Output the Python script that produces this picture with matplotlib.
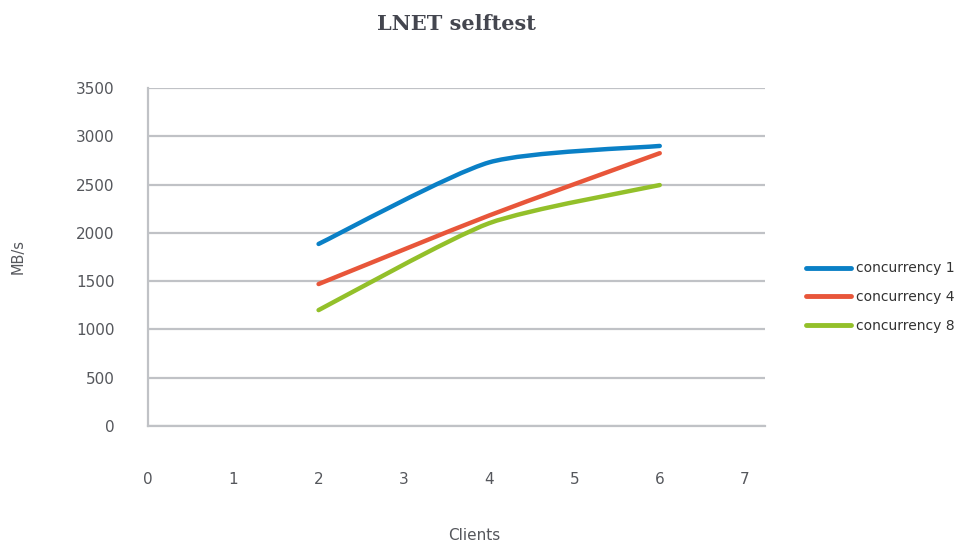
import numpy as np
import matplotlib
matplotlib.use("Agg")
import matplotlib.pyplot as plt
from matplotlib.path import Path
from matplotlib.patches import PathPatch
from matplotlib.lines import Line2D

# Data
clients = [2, 4, 6]
conc1 = [1885, 2730, 2900]
conc4 = [1470, 2180, 2825]
conc8 = [1200, 2100, 2495]
series_names = ["concurrency 1", "concurrency 4", "concurrency 8"]
series_colors = ["#0a80c6", "#e8563a", "#93c02a"]
x_ticks = [0, 1, 2, 3, 4, 5, 6, 7]
y_ticks = [0, 500, 1000, 1500, 2000, 2500, 3000, 3500]

TEXT = "#55575c"
GRID = "#c0c2c6"


def smooth_path(xs, ys, k=1 / 9.0):
    """Cardinal-spline cubic Bezier path through the given points."""
    pts = np.column_stack([xs, ys]).astype(float)
    verts = [pts[0]]
    codes = [Path.MOVETO]
    n = len(pts)
    for i in range(n - 1):
        p0 = pts[i - 1] if i > 0 else pts[i]
        p1 = pts[i]
        p2 = pts[i + 1]
        p3 = pts[i + 2] if i + 2 < n else pts[i + 1]
        c1 = p1 + (p2 - p0) * k
        c2 = p2 - (p3 - p1) * k
        verts += [c1, c2, p2]
        codes += [Path.CURVE4] * 3
    return Path(verts, codes)


fig = plt.figure(figsize=(9.65, 5.45), dpi=100)
ax = fig.add_axes([148 / 965, 1 - 426 / 545, 617 / 965, 338 / 545])

for ys, col in zip([conc1, conc4, conc8], series_colors):
    patch = PathPatch(smooth_path(clients, ys), facecolor="none", edgecolor=col,
                      lw=3.2, capstyle="round", joinstyle="round", zorder=3)
    ax.add_patch(patch)

ax.set_xlim(0, 7.234)
ax.set_ylim(0, 3500)
ax.set_xticks(x_ticks)
ax.set_yticks(y_ticks)
ax.grid(axis="y", color=GRID, lw=1.6)
ax.set_axisbelow(True)
for s in ["top", "right"]:
    ax.spines[s].set_visible(False)
for s in ["left", "bottom"]:
    ax.spines[s].set_color(GRID)
    ax.spines[s].set_linewidth(1.6)
ax.tick_params(axis="both", length=0, colors=TEXT, labelsize=11)
ax.tick_params(axis="y", pad=24)
ax.tick_params(axis="x", pad=33)

fig.text(18 / 965, 1 - 257 / 545, "MB/s", rotation=90, ha="center", va="center",
         color=TEXT, fontsize=10.5)
fig.text(474 / 965, 1 - 536 / 545, "Clients", ha="center", va="center",
         color=TEXT, fontsize=11)
fig.text(456 / 965, 1 - 24 / 545, "LNET selftest", ha="center", va="center",
         color="#44464f", fontsize=15, fontweight="bold", family="DejaVu Serif")

handles = [Line2D([0], [0], color=c, lw=3.5, solid_capstyle="round") for c in series_colors]
fig.legend(handles, series_names, loc="center left",
           bbox_to_anchor=(793 / 965, 1 - 297 / 545), frameon=False,
           fontsize=10, labelcolor="#333333", handlelength=3.3,
           handletextpad=0.3, labelspacing=1.05)

fig.savefig("out.png", dpi=100, facecolor="white")
